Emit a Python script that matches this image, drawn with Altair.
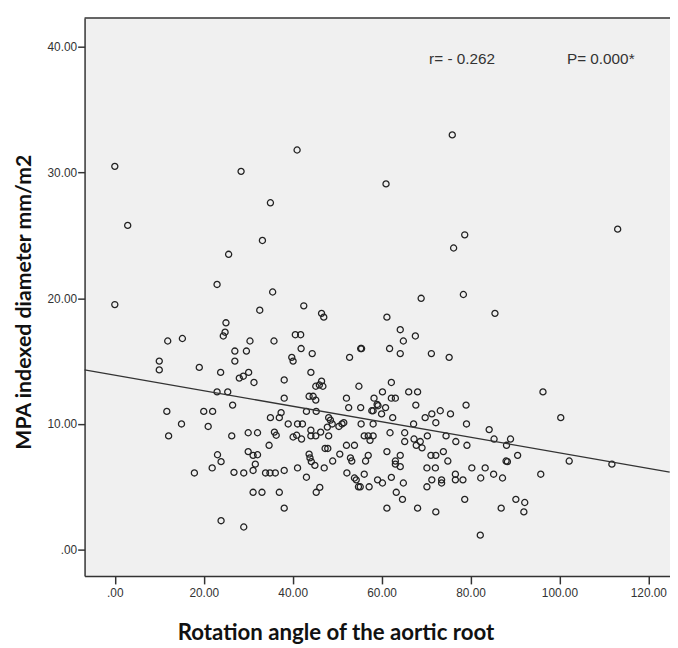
import altair as alt
import pandas as pd

# Scatter data: rotation angle (x) vs MPA indexed diameter (y)
rotation_angle = [
    0.0, 28.4, 41.0, 2.9, 35.0, 33.2, 25.6, 23.0, 35.5,
    75.9, 61.0, 113.1, 78.7, 76.2, 68.9, 78.4,
    0.0, 32.6, 42.5, 46.5, 47.0, 25.0, 24.8, 24.4, 11.9, 15.2, 30.4, 35.8, 40.6, 41.8,
    41.9, 44.4, 27.0, 29.6, 27.0, 10.0, 10.0, 19.0, 23.8, 28.0, 28.9, 30.1, 31.3, 39.8,
    40.1, 38.1, 44.1, 46.0, 46.5, 46.8, 45.2, 43.7, 44.6, 45.2, 38.1, 23.0, 25.4, 26.5,
    11.7, 20.0, 22.0, 15.0, 21.0, 12.1, 26.3, 30.0, 32.1, 35.0, 37.0, 37.4, 35.9, 36.3,
    34.7, 39.0, 41.1, 42.2, 43.1, 45.3, 40.1, 40.9, 42.0, 44.1, 44.1, 45.2, 46.3, 47.8,
    48.1, 48.5, 48.9, 48.1, 50.4, 51.1, 51.5, 52.1, 52.6, 52.8, 47.3, 47.9, 43.7, 43.9,
    44.2, 45.0, 47.1, 49.0, 50.6, 52.1, 53.9, 53.0, 53.3, 52.2, 53.9, 54.3, 43.1, 41.1,
    38.1, 33.9, 34.9, 36.1, 31.1, 31.6, 31.1, 32.1, 30.0, 29.0, 26.8, 23.1, 23.9, 21.9,
    17.9, 31.1, 33.1, 37.0, 38.1, 45.3, 46.1, 23.9, 29.0,
    85.5, 61.2, 64.2, 64.9, 67.6, 55.3, 55.5, 61.8, 64.2, 71.2, 75.2, 54.9, 62.2, 60.2,
    66.1, 68.1, 96.3, 58.3, 62.2, 63.1, 59.0, 59.2, 55.3, 57.8, 58.1, 60.0, 60.9, 67.7,
    62.5, 69.8, 71.3, 73.2, 72.2, 75.5, 79.0, 79.1, 100.3, 55.4, 58.1, 67.2, 56.1, 57.0,
    58.1, 57.4, 61.9, 65.2, 65.2, 67.3, 67.8, 68.7, 69.1, 70.3, 74.5, 76.7, 79.2, 84.2,
    85.3, 89.0, 88.1, 88.0, 88.3, 90.6, 102.2, 111.8, 95.8, 61.2, 64.2, 63.1, 63.1, 64.2,
    71.1, 72.2, 73.9, 74.9, 70.2, 72.1, 57.0, 56.4, 56.1, 62.2, 59.1, 60.2, 64.9, 54.8,
    55.2, 57.2, 70.2, 71.3, 73.5, 73.5, 76.6, 76.6, 78.3, 80.3, 82.3, 83.3, 85.2, 87.2,
    63.3, 64.7, 61.2, 68.1, 72.2, 78.7, 86.9, 90.2, 92.2, 92.0, 82.2,
]
mpa_index = [
    30.5, 30.1, 31.8, 25.8, 27.6, 24.6, 23.5, 21.1, 20.5,
    33.0, 29.1, 25.5, 25.05, 24.0, 20.0, 20.3,
    19.5, 19.05, 19.4, 18.8, 18.5, 18.05, 17.3, 17.0, 16.6, 16.8, 16.6, 16.6, 17.1, 17.1,
    16.0, 15.6, 15.8, 15.8, 15.0, 15.0, 14.3, 14.5, 14.1, 13.65, 13.8, 14.1, 13.3, 15.3,
    15.0, 13.5, 14.1, 13.1, 13.4, 13.0, 13.0, 12.2, 12.2, 11.9, 12.05, 12.55, 12.55, 11.5,
    11.0, 11.0, 11.0, 10.0, 9.8, 9.05, 9.05, 9.3, 9.3, 10.5, 10.5, 10.9, 9.35, 9.1,
    8.3, 10.0, 10.0, 10.0, 11.0, 11.0, 8.96, 9.1, 8.8, 9.5, 9.05, 9.05, 9.35, 9.75,
    10.5, 10.3, 10.0, 9.05, 9.8, 10.0, 10.1, 12.05, 11.3, 15.3, 8.05, 8.05, 7.6, 7.3,
    7.0, 6.7, 6.5, 7.05, 7.6, 8.3, 8.3, 7.3, 7.05, 6.1, 5.7, 5.55, 5.76, 6.5,
    6.3, 6.1, 6.1, 6.1, 6.3, 6.8, 7.5, 7.55, 7.8, 6.1, 6.15, 7.55, 7.0, 6.5,
    6.1, 4.56, 4.56, 4.56, 3.3, 4.56, 4.95, 2.3, 1.8,
    18.8, 18.5, 17.5, 16.6, 17.0, 16.0, 16.0, 16.0, 15.6, 15.6, 15.3, 13.0, 13.3, 12.55,
    12.55, 12.55, 12.55, 12.05, 12.05, 12.05, 11.55, 11.45, 11.3, 11.05, 11.05, 10.8, 11.3, 11.5,
    10.5, 10.5, 10.8, 11.05, 10.1, 10.8, 11.5, 10.0, 10.5, 10.0, 10.0, 10.0, 9.05, 9.05,
    9.05, 8.7, 9.3, 9.3, 8.6, 8.8, 8.3, 8.6, 8.1, 9.05, 9.05, 8.6, 8.3, 9.55,
    8.8, 8.8, 8.3, 7.05, 7.0, 7.5, 7.05, 6.8, 6.0, 7.8, 7.5, 7.05, 6.8, 6.6,
    7.5, 7.5, 7.8, 7.05, 6.5, 6.5, 7.5, 7.05, 6.0, 5.75, 5.55, 5.3, 5.3, 5.0,
    5.0, 5.0, 5.0, 5.55, 5.55, 5.3, 6.0, 5.55, 5.55, 6.5, 5.7, 6.5, 6.0, 5.7,
    4.56, 4.0, 3.3, 3.3, 3.0, 4.0, 3.3, 4.0, 3.75, 3.0, 1.15,
]

# Fit line (ends of the drawn line)
fit_angle = [-6.8, 124.8]
fit_mpa = [14.3, 6.17]

# Annotation texts
annot_text = ["r= - 0.262", "P= 0.000*"]
annot_x = [78.1, 109.3]
annot_y = [39.0, 39.0]

x_ticks = [0, 20, 40, 60, 80, 100, 120]
y_ticks = [0, 10, 20, 30, 40]
x_domain = [-6.8, 124.87]
y_domain = [-2.1, 42.3]

W = 592.5
H = 564.7

pts = pd.DataFrame({"angle": rotation_angle, "mpa": mpa_index})
fit = pd.DataFrame({"angle": fit_angle, "mpa": fit_mpa})
ann = pd.DataFrame({"angle": annot_x, "mpa": annot_y, "txt": annot_text})
frame = pd.DataFrame({"k": [0]})

label_expr = "datum.value == 0 ? '.00' : format(datum.value, '.2f')"

xs = alt.Scale(domain=x_domain, nice=False, zero=False)
ys = alt.Scale(domain=y_domain, nice=False, zero=False)

x_axis = alt.Axis(
    values=x_ticks, labelExpr=label_expr, grid=False,
    domainColor="#333333", domainWidth=1.5, tickColor="#333333", tickWidth=1.5,
    tickSize=8, labelPadding=4, labelFont="Liberation Sans", labelFontSize=12,
    labelColor="#333333", labelFlush=False,
    title="Rotation angle of the aortic root", titleFont="Lato", titleFontSize=22.5,
    titleFontWeight="bold", titleColor="#111111", titleX=254, titleY=64,
    titleAlign="center", titleBaseline="alphabetic",
)
y_axis = alt.Axis(
    values=y_ticks, labelExpr=label_expr, grid=False,
    domainColor="#333333", domainWidth=1.5, tickColor="#333333", tickWidth=1.5,
    tickSize=7, labelPadding=1, labelFont="Liberation Sans", labelFontSize=12,
    labelColor="#333333", labelFlush=False,
    title="MPA indexed diameter mm/m2", titleFont="Lato", titleFontSize=21.5,
    titleFontWeight="bold", titleColor="#111111", titleX=-54.5, titleY=287,
    titleAngle=270, titleAlign="center", titleBaseline="alphabetic",
)

points = alt.Chart(pts).mark_point(
    shape="circle", filled=False, size=38, strokeWidth=1.3, color="#222222", opacity=1
).encode(
    x=alt.X("angle:Q", scale=xs, axis=x_axis),
    y=alt.Y("mpa:Q", scale=ys, axis=y_axis),
)

line = alt.Chart(fit).mark_line(color="#333333", strokeWidth=1.3).encode(
    x=alt.X("angle:Q", scale=xs),
    y=alt.Y("mpa:Q", scale=ys),
)

texts = alt.Chart(ann).mark_text(
    font="Liberation Sans", fontSize=15.5, color="#333333", align="center", baseline="middle"
).encode(
    x=alt.X("angle:Q", scale=xs),
    y=alt.Y("mpa:Q", scale=ys),
    text="txt:N",
)

top_rule = alt.Chart(frame).mark_rule(color="#333333", strokeWidth=1.5).encode(
    x=alt.value(0), x2=alt.value(W), y=alt.value(0)
)

chart = alt.layer(points, line, texts, top_rule).properties(
    width=W, height=H,
    padding={"left": 77.5, "top": 6.3, "right": 0, "bottom": 69},
    autosize=alt.AutoSizeParams(type="none"),
).configure_view(fill="#f0f0f0", stroke="transparent")

chart.save("out.html", embed_options={"renderer": "svg", "actions": False})
